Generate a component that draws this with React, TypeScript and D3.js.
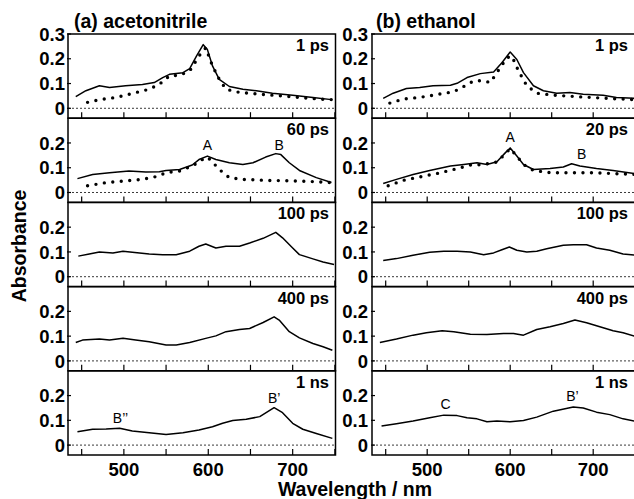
import React from "react";
import * as d3 from "d3";

type Pt = [number, number];

// ---------- Data (wavelength nm, absorbance) ----------
const solvents = ["(a) acetonitrile", "(b) ethanol"];
const delaysA = ["1 ps", "60 ps", "100 ps", "400 ps", "1 ns"];
const delaysB = ["1 ps", "20 ps", "100 ps", "400 ps", "1 ns"];
const xTickValues = [450, 500, 550, 600, 650, 700, 750];
const xTickLabels = [500, 600, 700];
const yTicksFirst = [0, 0.1, 0.2, 0.3];
const yTicksOther = [0, 0.1, 0.2];

const acn1psSolid: Pt[] = [[443,0.047],[455,0.071],[471,0.091],[483,0.084],[502,0.091],[522,0.096],[536,0.104],[546,0.124],[554,0.137],[570,0.144],[578,0.16],[586,0.211],[594,0.257],[599,0.237],[605,0.171],[613,0.117],[625,0.088],[641,0.077],[657,0.071],[676,0.061],[700,0.053],[724,0.044],[746,0.035]];
const acn1psDots: Pt[] = [[457,0.024],[471,0.035],[491,0.044],[510,0.06],[530,0.077],[542,0.097],[554,0.131],[566,0.133],[578,0.151],[589,0.211],[597,0.244],[605,0.171],[613,0.117],[621,0.077],[637,0.064],[660,0.057],[684,0.051],[708,0.044],[732,0.037],[746,0.035]];
const acn60psSolid: Pt[] = [[445,0.056],[463,0.073],[483,0.08],[506,0.087],[526,0.083],[542,0.084],[550,0.089],[566,0.093],[581,0.111],[589,0.133],[599,0.147],[609,0.133],[625,0.12],[641,0.113],[653,0.12],[668,0.143],[680,0.157],[686,0.153],[696,0.12],[708,0.089],[728,0.06],[746,0.04]];
const acn60psDots: Pt[] = [[457,0.027],[479,0.04],[502,0.047],[522,0.053],[538,0.064],[550,0.08],[566,0.087],[581,0.107],[593,0.133],[599,0.143],[605,0.123],[613,0.093],[625,0.06],[641,0.053],[668,0.049],[700,0.047],[724,0.044],[746,0.04]];
const acn100ps: Pt[] = [[446,0.083],[459,0.092],[471,0.1],[487,0.096],[499,0.103],[510,0.099],[530,0.092],[546,0.089],[562,0.089],[578,0.103],[589,0.123],[597,0.132],[609,0.116],[621,0.123],[637,0.123],[649,0.136],[665,0.155],[680,0.179],[688,0.157],[700,0.116],[708,0.089],[724,0.072],[736,0.059],[749,0.049]];
const acn400ps: Pt[] = [[443,0.074],[451,0.084],[471,0.088],[483,0.084],[499,0.091],[514,0.084],[530,0.077],[550,0.064],[562,0.064],[578,0.074],[597,0.091],[609,0.101],[621,0.118],[637,0.127],[649,0.131],[665,0.155],[678,0.178],[684,0.165],[696,0.118],[708,0.093],[724,0.07],[736,0.057],[747,0.043]];
const acn1ns: Pt[] = [[445,0.054],[463,0.064],[479,0.065],[495,0.068],[510,0.057],[530,0.05],[550,0.043],[570,0.05],[589,0.061],[605,0.074],[617,0.088],[629,0.099],[645,0.104],[661,0.115],[678,0.151],[688,0.131],[700,0.088],[712,0.064],[728,0.047],[747,0.027]];

const eth1psSolid: Pt[] = [[447,0.04],[459,0.061],[475,0.08],[491,0.084],[507,0.091],[528,0.093],[536,0.101],[548,0.124],[564,0.14],[580,0.147],[590,0.184],[600,0.227],[608,0.197],[616,0.144],[628,0.091],[640,0.071],[656,0.061],[672,0.064],[688,0.057],[712,0.053],[728,0.044],[750,0.04]];
const eth1psDots: Pt[] = [[455,0.021],[471,0.037],[491,0.044],[511,0.055],[532,0.067],[544,0.088],[556,0.111],[568,0.111],[576,0.104],[584,0.144],[596,0.204],[602,0.211],[610,0.151],[620,0.091],[632,0.061],[652,0.053],[680,0.047],[712,0.041],[750,0.035]];
const eth20psSolid: Pt[] = [[447,0.036],[463,0.053],[483,0.073],[503,0.089],[528,0.107],[544,0.113],[560,0.12],[572,0.113],[584,0.124],[594,0.16],[600,0.18],[608,0.147],[616,0.113],[628,0.093],[648,0.097],[664,0.103],[674,0.116],[684,0.107],[704,0.097],[724,0.089],[750,0.076]];
const eth20psDots: Pt[] = [[453,0.027],[471,0.049],[491,0.063],[511,0.076],[532,0.093],[552,0.111],[568,0.113],[584,0.123],[594,0.156],[600,0.177],[608,0.147],[616,0.113],[628,0.089],[648,0.08],[672,0.08],[696,0.08],[720,0.077],[750,0.073]];
const eth100ps: Pt[] = [[447,0.065],[463,0.073],[483,0.087],[503,0.099],[520,0.103],[536,0.103],[552,0.1],[568,0.089],[580,0.096],[590,0.109],[599,0.12],[608,0.107],[620,0.1],[632,0.103],[644,0.113],[664,0.127],[676,0.129],[692,0.129],[704,0.116],[720,0.107],[736,0.092],[750,0.087]];
const eth400ps: Pt[] = [[443,0.074],[463,0.088],[483,0.104],[499,0.114],[518,0.122],[532,0.118],[552,0.108],[572,0.107],[592,0.111],[604,0.111],[616,0.104],[632,0.127],[648,0.138],[664,0.151],[678,0.165],[692,0.154],[708,0.138],[724,0.122],[736,0.114],[750,0.1]];
const eth1ns: Pt[] = [[445,0.077],[463,0.086],[483,0.097],[503,0.11],[520,0.121],[536,0.119],[548,0.11],[560,0.106],[572,0.094],[584,0.097],[600,0.094],[616,0.099],[632,0.113],[652,0.137],[676,0.154],[688,0.15],[704,0.133],[720,0.123],[736,0.106],[750,0.097]];

const solidA = [acn1psSolid, acn60psSolid, acn100ps, acn400ps, acn1ns];
const dotsA = [acn1psDots, acn60psDots, null, null, null];
const solidB = [eth1psSolid, eth20psSolid, eth100ps, eth400ps, eth1ns];
const dotsB = [eth1psDots, eth20psDots, null, null, null];

// annotations: [panel, wavelength, absorbance, text]
const notesA: [number, number, number, string][] = [[1, 599, 0.17, "A"], [1, 684, 0.17, "B"], [4, 496, 0.09, "B’’"], [4, 678, 0.17, "B’"]];
const notesB: [number, number, number, string][] = [[1, 600, 0.205, "A"], [1, 686, 0.135, "B"], [4, 522, 0.145, "C"], [4, 675, 0.18, "B’"]];

// ---------- Layout ----------
const W = 634, H = 499;
const top0 = 34, panelH = 84.2, nPanels = 5;
const FONT = "'Liberation Sans', Arial, Helvetica, sans-serif";

const columns = [
  { title: solvents[0], delays: delaysA, solid: solidA, dots: dotsA, notes: notesA, x0: 68, x1: 335.5, domain: [433.8, 750.7], labelX: 65, titleX: 74 },
  { title: solvents[1], delays: delaysB, solid: solidB, dots: dotsB, notes: notesB, x0: 372, x1: 636, domain: [433.5, 751.5], labelX: 368, titleX: 376 },
];

export default function App() {
  return (
    <svg width={W} height={H} style={{ position: "absolute", left: 0, top: 0, background: "#fff" }} fontFamily={FONT}>
      <rect x={0} y={0} width={W} height={H} fill="#fff" />
      {columns.map((col, ci) => {
        const x = d3.scaleLinear().domain(col.domain).range([col.x0, col.x0 + (col.domain[1] - col.domain[0]) * (ci === 0 ? 0.844 : 0.830)]);
        return (
          <g key={ci}>
            <text x={col.titleX} y={28} fontSize={19.5} fontWeight="bold">{col.title}</text>
            {d3.range(nPanels).map((pi) => {
              const pt = top0 + pi * panelH;
              const y = d3.scaleLinear().domain([-0.04, 0.3]).range([pt + panelH, pt]);
              const line = d3.line<Pt>().x((d) => x(d[0])).y((d) => y(d[1])).curve(d3.curveLinear);
              const ticks = pi === 0 ? yTicksFirst : yTicksOther;
              const dots = col.dots[pi];
              return (
                <g key={pi}>
                  <line x1={col.x0} x2={col.x1} y1={y(0)} y2={y(0)} stroke="#222" strokeWidth={0.9} strokeDasharray="2,2" />
                  {xTickValues.map((t) => (
                    <line key={t} x1={x(t)} x2={x(t)} y1={pt + panelH} y2={pt + panelH - 6} stroke="#000" strokeWidth={1.2} />
                  ))}
                  {ticks.map((t) => (
                    <g key={t}>
                      <line x1={col.x0 - 1} x2={col.x0 + 3} y1={y(t)} y2={y(t)} stroke="#000" strokeWidth={1.2} />
                      <text x={col.labelX} y={y(t)} dy="0.36em" textAnchor="end" fontSize={18.5} fontWeight="bold">{t === 0 ? "0" : d3.format(".1f")(t)}</text>
                    </g>
                  ))}
                  <rect x={col.x0} y={pt} width={col.x1 - col.x0} height={panelH} fill="none" stroke="#000" strokeWidth={1.5} />
                  {dots && (
                    <path d={line(dots) || ""} fill="none" stroke="#000" strokeWidth={3.4} strokeLinecap="round" strokeDasharray="0,8.5" />
                  )}
                  <path d={line(col.solid[pi]) || ""} fill="none" stroke="#000" strokeWidth={1.5} strokeLinejoin="round" />
                  <text x={ci === 0 ? 329 : 628} y={pt + 17} textAnchor="end" fontSize={16.5} fontWeight="bold">{col.delays[pi]}</text>
                  {col.notes.filter((n) => n[0] === pi).map((n, k) => (
                    <text key={k} x={x(n[1])} y={y(n[2])} textAnchor="middle" fontSize={14}>{n[3]}</text>
                  ))}
                  {pi === nPanels - 1 && xTickLabels.map((t) => (
                    <text key={t} x={x(t)} y={476} textAnchor="middle" fontSize={18.5} fontWeight="bold">{t}</text>
                  ))}
                </g>
              );
            })}
          </g>
        );
      })}
      <text transform={`translate(26,246) rotate(-90)`} textAnchor="middle" fontSize={19.5} fontWeight="bold">Absorbance</text>
      <text x={355} y={496} textAnchor="middle" fontSize={19.5} fontWeight="bold">Wavelength / nm</text>
    </svg>
  );
}
